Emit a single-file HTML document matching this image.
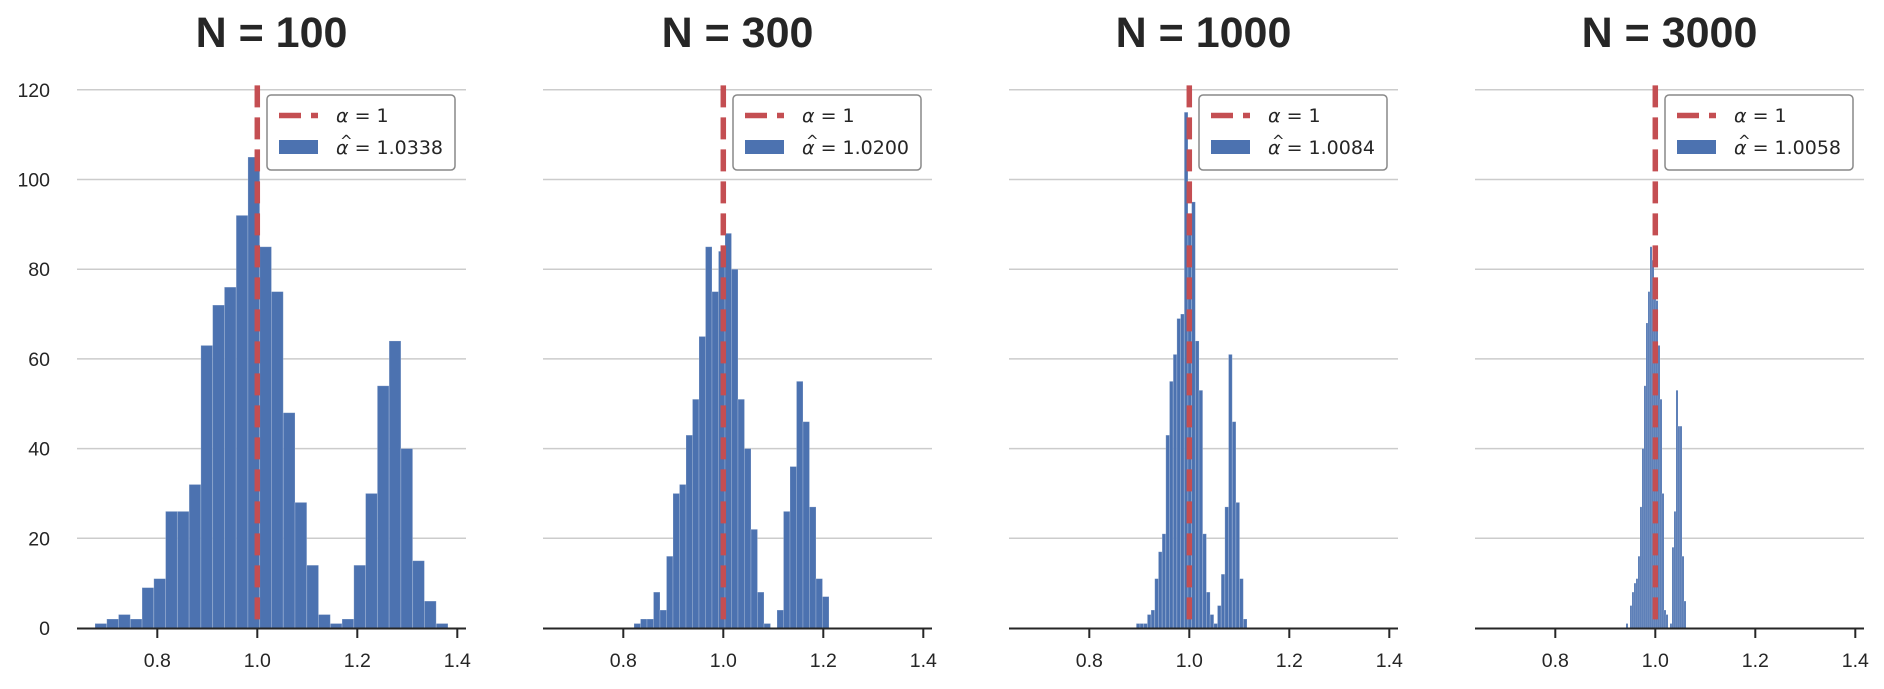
<!DOCTYPE html>
<html><head><meta charset="utf-8">
<style>
html,body{margin:0;padding:0;background:#fff;}
svg{display:block;font-family:"Liberation Sans","DejaVu Sans",sans-serif;}
</style></head>
<body>
<svg id="chart" width="1884" height="689" viewBox="0 0 1884 689" xmlns="http://www.w3.org/2000/svg"></svg>
<script>
const panelTitles = ["N = 100", "N = 300", "N = 1000", "N = 3000"];
const estimateLabels = ["1.0338", "1.0200", "1.0084", "1.0058"];
const binStarts = [0.6754, 0.8214, 0.894, 0.9414];
const binWidths = [0.02353, 0.013, 0.00738, 0.004];
const countsN100 = [1,2,3,2,9,11,26,26,32,63,72,76,92,105,85,75,48,28,14,3,1,2,14,30,54,64,40,15,6,1];
const countsN300 = [1,2,2,8,4,16,30,32,43,51,65,85,75,84,88,80,51,40,22,8,1,0,4,26,36,55,46,27,11,7];
const countsN1000 = [1,1,1,3,4,11,17,21,43,55,61,69,70,115,91,95,64,53,21,8,3,1,5,12,27,61,46,28,11,2];
const countsN3000 = [1,0,5,8,10,11,16,27,40,54,68,75,85,82,77,73,63,51,30,4,3,0,1,18,26,53,45,45,16,6];
const allCounts = [countsN100, countsN300, countsN1000, countsN3000];
const trueAlpha = 1.0;
const yTicks = [0, 20, 40, 60, 80, 100, 120];
const xTicks = [0.8, 1.0, 1.2, 1.4];
const xTickLabels = ["0.8", "1.0", "1.2", "1.4"];

const NS = "http://www.w3.org/2000/svg";
const svg = document.getElementById("chart");
const X_MIN = 0.6394, X_MAX = 1.4174;
const PX_PER_UNIT = 500, PANEL_STEP = 466, AX_LEFT0 = 77;
const Y0 = 628, Y_PER = 4.485, Y_TOP = 121;
function xScale(p, v){ return AX_LEFT0 + p*PANEL_STEP + (v - X_MIN)*PX_PER_UNIT; }
function yScale(v){ return Y0 - v*Y_PER; }
function mk(tag, attrs, parent){
  const e = document.createElementNS(NS, tag);
  for (const k in attrs) e.setAttribute(k, attrs[k]);
  (parent||svg).appendChild(e);
  return e;
}

for (let p = 0; p < 4; p++) {
  const g = mk("g", {});
  
  
  const left = xScale(p, X_MIN), right = xScale(p, X_MAX);
  yTicks.forEach(t => {
    if (t === 0) return;
    const gl = mk("line", {x1:left, x2:right, y1:yScale(t), y2:yScale(t), stroke:"#cccccc", "stroke-width":1.5}, g);
    
    
  });
  if (p === 0) {
    yTicks.forEach(t => {
      const tx = mk("text", {x:50, y:yScale(t)+7, "text-anchor":"end", "font-size":"19.5", fill:"#262626"}, g);
      tx.textContent = String(t);
      
      
    });
  }
  const counts = allCounts[p];
  counts.forEach((c, i) => {
    if (c <= 0) return;
    const x0 = xScale(p, binStarts[p] + i*binWidths[p]);
    const w = binWidths[p]*PX_PER_UNIT;
    const r = mk("rect", {x:x0, y:yScale(c), width:w, height:c*Y_PER, fill:"#4c72b0", stroke:"#ffffff", "stroke-opacity":0.25, "stroke-width":0.8}, g);
    
    
  });
  const vl = mk("line", {x1:xScale(p,trueAlpha), x2:xScale(p,trueAlpha), y1:yScale(Y_TOP), y2:Y0, stroke:"#c44e52", "stroke-width":5.5, "stroke-dasharray":"22 10"}, g);
  
  
  const sp = mk("line", {x1:left, x2:right, y1:Y0+0.5, y2:Y0+0.5, stroke:"#262626", "stroke-width":2}, g);
  
  
  xTicks.forEach((t, k) => {
    const xx = xScale(p, t);
    const tk = mk("line", {x1:xx, x2:xx, y1:Y0, y2:Y0+10, stroke:"#262626", "stroke-width":2}, g);
    
    
    const tl = mk("text", {x:xx, y:667, "text-anchor":"middle", "font-size":"19.5", fill:"#262626"}, g);
    tl.textContent = xTickLabels[k];
    
    
  });
  const ti = mk("text", {x:(left+right)/2, y:47, "text-anchor":"middle", "font-size":"43", "font-weight":"bold", fill:"#262626"}, g);
  ti.textContent = panelTitles[p];
  
  
  const lx = left + 190;
  const lg = mk("g", {}, g);
  
  
  mk("rect", {x:lx, y:95, width:188, height:75, rx:4, fill:"#ffffff", "fill-opacity":0.9, stroke:"#888888", "stroke-width":1.5}, lg);
  const ls = mk("line", {x1:lx+12, x2:lx+51, y1:115.5, y2:115.5, stroke:"#c44e52", "stroke-width":5.5, "stroke-dasharray":"22 10"}, lg);
  
  
  const t1 = mk("text", {x:lx+69, y:122, "font-size":"19", fill:"#262626", "font-family":"DejaVu Sans, sans-serif"}, lg);
  t1.innerHTML = '<tspan font-style="italic">α</tspan> = 1';
  
  
  const bs = mk("rect", {x:lx+12, y:140, width:39, height:14, fill:"#4c72b0"}, lg);
  
  
  const hat = mk("text", {x:lx+73, y:146, "font-size":"15", fill:"#262626", "font-family":"DejaVu Sans, sans-serif"}, lg);
  hat.textContent = "^";
  
  
  const t2 = mk("text", {x:lx+69, y:154, "font-size":"19", fill:"#262626", "font-family":"DejaVu Sans, sans-serif"}, lg);
  t2.innerHTML = '<tspan font-style="italic">α</tspan> = ' + estimateLabels[p];
  
  
}
</script>
</body></html>
